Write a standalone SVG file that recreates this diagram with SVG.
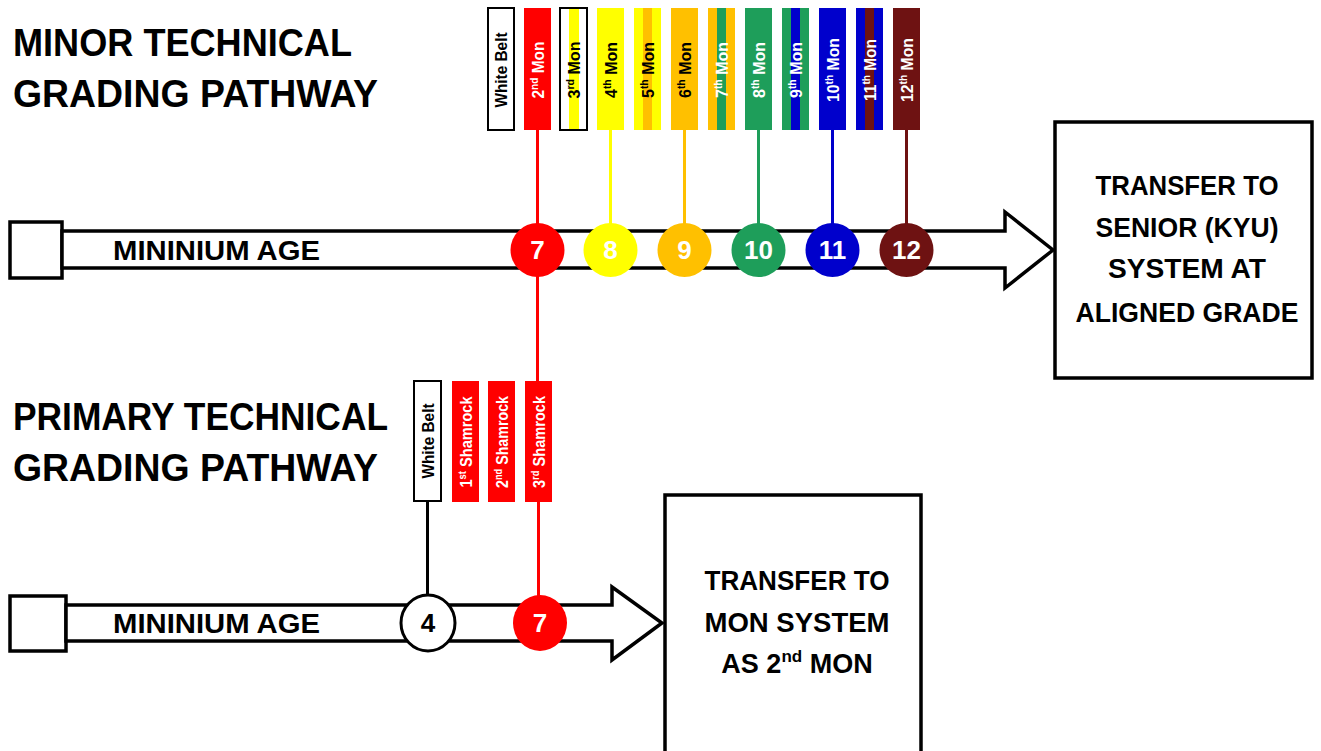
<svg xmlns="http://www.w3.org/2000/svg" width="1321" height="751" viewBox="0 0 1321 751">
<style>
text{font-family:"Liberation Sans",Arial,sans-serif;font-weight:bold}
.title{font-size:38px;fill:#000}
.lab{font-size:27px;fill:#000}
.box{font-size:27px;fill:#000;text-anchor:middle}
.num{font-size:26px;fill:#fff;text-anchor:middle}
.belt{font-size:17px;text-anchor:middle}
.w{fill:#fff}
.k{fill:#000}
.arrow{fill:#fff;stroke:#000;stroke-width:3.5;stroke-linejoin:miter}
.frame{fill:#fff;stroke:#000;stroke-width:3.5}
.conn{fill:none;stroke-width:3}
.wb{fill:#fff;stroke:#000;stroke-width:2}
</style>

<g id="titles">
<text class="title" x="13" y="56" textLength="339" lengthAdjust="spacingAndGlyphs">MINOR TECHNICAL</text>
<text class="title" x="13" y="107" textLength="365" lengthAdjust="spacingAndGlyphs">GRADING PATHWAY</text>
<text class="title" x="13" y="430" textLength="375" lengthAdjust="spacingAndGlyphs">PRIMARY TECHNICAL</text>
<text class="title" x="13" y="481" textLength="365" lengthAdjust="spacingAndGlyphs">GRADING PATHWAY</text>
</g>

<g id="minor-age-arrow">
<rect class="frame" x="10" y="222" width="52" height="56"/>
<path class="arrow" d="M62,231 H1005 V212 L1053,250 L1005,288 V268 H62 Z"/>
<text class="lab" x="113" y="260" textLength="207" lengthAdjust="spacingAndGlyphs">MININIUM AGE</text>
</g>

<g id="primary-age-arrow">
<rect class="frame" x="10" y="596" width="56" height="55"/>
<path class="arrow" d="M66,605 H612 V587 L662,623 L612,660 V641 H66 Z"/>
<text class="lab" x="113" y="633" textLength="207" lengthAdjust="spacingAndGlyphs">MININIUM AGE</text>
</g>

<g id="connectors">
<path class="conn" stroke="#ff0000" d="M537.5,130 V381"/>
<path class="conn" stroke="#ff0000" d="M538.5,501 V600"/>
<path class="conn" stroke="#ffff00" d="M610.5,130 V225"/>
<path class="conn" stroke="#ffc000" d="M684.5,130 V225"/>
<path class="conn" stroke="#1e9e5a" d="M758.5,130 V225"/>
<path class="conn" stroke="#0000cc" d="M832.5,130 V225"/>
<path class="conn" stroke="#6e1212" d="M906.5,130 V225"/>
<path class="conn" stroke="#000" d="M427.5,501 V596"/>
</g>

<g id="minor-belts">
<g id="belt-white-top"><rect class="wb" x="488" y="8" width="26" height="122"/>
<text class="belt k" transform="translate(507,70) rotate(-90)" textLength="75" lengthAdjust="spacingAndGlyphs">White Belt</text></g>
<g id="belt-2nd-mon"><rect x="524" y="8" width="27" height="122" fill="#ff0000"/>
<text class="belt w" transform="translate(544,70) rotate(-90)" textLength="57" lengthAdjust="spacingAndGlyphs">2<tspan font-size="11" dy="-6">nd</tspan><tspan dy="6"> Mon</tspan></text></g>
<g id="belt-3rd-mon"><rect class="wb" x="560" y="8" width="27" height="122"/><rect x="569" y="9" width="10" height="120" fill="#ffff00"/>
<text class="belt k" transform="translate(580,70) rotate(-90)" textLength="57" lengthAdjust="spacingAndGlyphs">3<tspan font-size="11" dy="-6">rd</tspan><tspan dy="6"> Mon</tspan></text></g>
<g id="belt-4th-mon"><rect x="597" y="8" width="27" height="122" fill="#ffff00"/>
<text class="belt k" transform="translate(617,70) rotate(-90)" textLength="56" lengthAdjust="spacingAndGlyphs">4<tspan font-size="11" dy="-6">th</tspan><tspan dy="6"> Mon</tspan></text></g>
<g id="belt-5th-mon"><rect x="634" y="8" width="27" height="122" fill="#ffff00"/><rect x="643" y="8" width="9" height="122" fill="#ffc000"/>
<text class="belt k" transform="translate(654,70) rotate(-90)" textLength="56" lengthAdjust="spacingAndGlyphs">5<tspan font-size="11" dy="-6">th</tspan><tspan dy="6"> Mon</tspan></text></g>
<g id="belt-6th-mon"><rect x="671" y="8" width="27" height="122" fill="#ffc000"/>
<text class="belt k" transform="translate(691,70) rotate(-90)" textLength="56" lengthAdjust="spacingAndGlyphs">6<tspan font-size="11" dy="-6">th</tspan><tspan dy="6"> Mon</tspan></text></g>
<g id="belt-7th-mon"><rect x="708" y="8" width="27" height="122" fill="#ffc000"/><rect x="717" y="8" width="9" height="122" fill="#1e9e5a"/>
<text class="belt w" transform="translate(728,70) rotate(-90)" textLength="56" lengthAdjust="spacingAndGlyphs">7<tspan font-size="11" dy="-6">th</tspan><tspan dy="6"> Mon</tspan></text></g>
<g id="belt-8th-mon"><rect x="745" y="8" width="27" height="122" fill="#1e9e5a"/>
<text class="belt w" transform="translate(765,70) rotate(-90)" textLength="56" lengthAdjust="spacingAndGlyphs">8<tspan font-size="11" dy="-6">th</tspan><tspan dy="6"> Mon</tspan></text></g>
<g id="belt-9th-mon"><rect x="782" y="8" width="27" height="122" fill="#1e9e5a"/><rect x="791" y="8" width="9" height="122" fill="#0000cc"/>
<text class="belt w" transform="translate(802,70) rotate(-90)" textLength="56" lengthAdjust="spacingAndGlyphs">9<tspan font-size="11" dy="-6">th</tspan><tspan dy="6"> Mon</tspan></text></g>
<g id="belt-10th-mon"><rect x="819" y="8" width="27" height="122" fill="#0000cc"/>
<text class="belt w" transform="translate(839,70) rotate(-90)" textLength="64" lengthAdjust="spacingAndGlyphs">10<tspan font-size="11" dy="-6">th</tspan><tspan dy="6"> Mon</tspan></text></g>
<g id="belt-11th-mon"><rect x="856" y="8" width="27" height="122" fill="#0000cc"/><rect x="865" y="8" width="9" height="122" fill="#6e1212"/>
<text class="belt w" transform="translate(876,70) rotate(-90)" textLength="62" lengthAdjust="spacingAndGlyphs">11<tspan font-size="11" dy="-6">th</tspan><tspan dy="6"> Mon</tspan></text></g>
<g id="belt-12th-mon"><rect x="893" y="8" width="27" height="122" fill="#6e1212"/>
<text class="belt w" transform="translate(913,70) rotate(-90)" textLength="64" lengthAdjust="spacingAndGlyphs">12<tspan font-size="11" dy="-6">th</tspan><tspan dy="6"> Mon</tspan></text></g>
</g>

<g id="primary-belts">
<g id="belt-white-bottom"><rect class="wb" x="414" y="381" width="27" height="120"/>
<text class="belt k" transform="translate(434,441) rotate(-90)" textLength="75" lengthAdjust="spacingAndGlyphs">White Belt</text></g>
<g id="belt-1st-shamrock"><rect x="452" y="381" width="27" height="121" fill="#ff0000"/>
<text class="belt w" transform="translate(472,442) rotate(-90)" textLength="91" lengthAdjust="spacingAndGlyphs">1<tspan font-size="11" dy="-6">st</tspan><tspan dy="6"> Shamrock</tspan></text></g>
<g id="belt-2nd-shamrock"><rect x="488" y="381" width="27" height="121" fill="#ff0000"/>
<text class="belt w" transform="translate(508,442) rotate(-90)" textLength="92" lengthAdjust="spacingAndGlyphs">2<tspan font-size="11" dy="-6">nd</tspan><tspan dy="6"> Shamrock</tspan></text></g>
<g id="belt-3rd-shamrock"><rect x="525" y="381" width="27" height="121" fill="#ff0000"/>
<text class="belt w" transform="translate(545,442) rotate(-90)" textLength="92" lengthAdjust="spacingAndGlyphs">3<tspan font-size="11" dy="-6">rd</tspan><tspan dy="6"> Shamrock</tspan></text></g>
</g>

<g id="age-circles">
<g id="age-7-top"><circle cx="537.5" cy="250" r="27" fill="#ff0000"/><text class="num" x="537.5" y="259">7</text></g>
<g id="age-8"><circle cx="610.5" cy="250" r="27" fill="#ffff00"/><text class="num" x="610.5" y="259">8</text></g>
<g id="age-9"><circle cx="684.5" cy="250" r="27" fill="#ffc000"/><text class="num" x="684.5" y="259">9</text></g>
<g id="age-10"><circle cx="758.5" cy="250" r="27" fill="#1e9e5a"/><text class="num" x="758.5" y="259">10</text></g>
<g id="age-11"><circle cx="832.5" cy="250" r="27" fill="#0000cc"/><text class="num" x="832.5" y="259">11</text></g>
<g id="age-12"><circle cx="906.5" cy="250" r="27" fill="#6e1212"/><text class="num" x="906.5" y="259">12</text></g>
<g id="age-4"><ellipse cx="428" cy="623" rx="27" ry="28" fill="#fff" stroke="#000" stroke-width="3"/><text class="num" x="428" y="632" style="fill:#000">4</text></g>
<g id="age-7-bottom"><ellipse cx="540" cy="623" rx="27" ry="28" fill="#ff0000"/><text class="num" x="540" y="632">7</text></g>
</g>

<g id="senior-box">
<rect class="frame" x="1055" y="122" width="257" height="256"/>
<text class="box" x="1187" y="195" textLength="183" lengthAdjust="spacingAndGlyphs">TRANSFER TO</text>
<text class="box" x="1187" y="237" textLength="183" lengthAdjust="spacingAndGlyphs">SENIOR (KYU)</text>
<text class="box" x="1187" y="278" textLength="158" lengthAdjust="spacingAndGlyphs">SYSTEM AT</text>
<text class="box" x="1187" y="322" textLength="223" lengthAdjust="spacingAndGlyphs">ALIGNED GRADE</text>
</g>

<g id="mon-box">
<rect class="frame" x="665" y="495" width="256" height="262"/>
<text class="box" x="797" y="590" textLength="185" lengthAdjust="spacingAndGlyphs">TRANSFER TO</text>
<text class="box" x="797" y="632" textLength="185" lengthAdjust="spacingAndGlyphs">MON SYSTEM</text>
<text class="box" x="797" y="673">AS 2<tspan font-size="17" dy="-11">nd</tspan><tspan dy="11"> MON</tspan></text>
</g>
</svg>
